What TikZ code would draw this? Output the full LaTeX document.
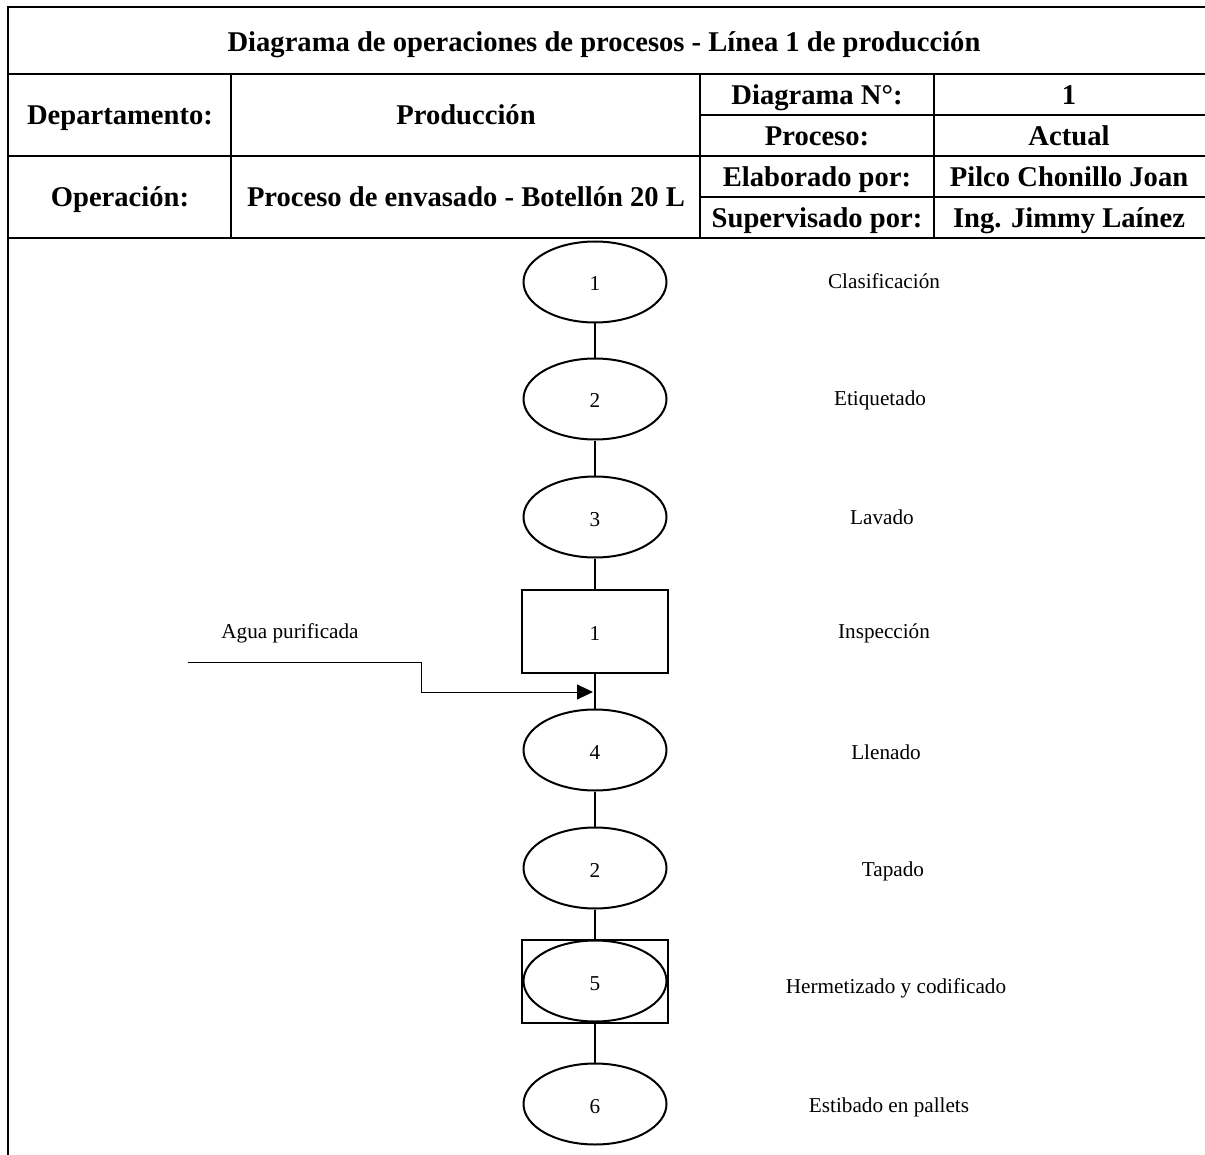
\documentclass[tikz,border=0pt]{standalone}
\usepackage{fontspec}
\setmainfont{Liberation Serif}
\usepackage{tikz}
\usetikzlibrary{arrows.meta, positioning, shapes.geometric}

\begin{document}
\begin{tikzpicture}[
  x=0.5pt, y=-0.5pt,
  tbl/.style={line width=1.4pt, black},
  conn/.style={line width=1.3pt, black},
  feed/.style={-{Triangle[length=8pt, width=7.5pt]}, line width=0.5pt, black},
  oper/.style={
    ellipse, draw, line width=1pt, minimum width=71.5pt,
    minimum height=40.5pt, inner sep=0pt, font=\fontsize{10.6}{12}\selectfont,
    text height=0.9em, text depth=0pt},
  inspbox/.style={
    rectangle, draw, line width=1pt, minimum width=73pt,
    minimum height=41.5pt, inner sep=0pt, font=\fontsize{10.6}{12}\selectfont,
    text height=0.9em, text depth=0pt},
  hdr/.style={
    font=\fontsize{14.3}{17}\selectfont\bfseries, inner sep=0pt,
    text height=0.68em, text depth=0.2em},
  lbl/.style={
    font=\fontsize{10.6}{12}\selectfont, inner sep=0pt,
    text height=0.68em, text depth=0.2em},
]
  \useasboundingbox (0,0) rectangle (1205,1155);

  %% ─── HEADER TABLE ───────────────────────────────────────────────────
  \draw[tbl] (1205,7) -- (8,7) -- (8,1155);
  \foreach \y in {74,156,238} \draw[tbl] (8,\y) -- (1205,\y);
  \foreach \y in {115,197} \draw[tbl] (700,\y) -- (1205,\y);
  \foreach \x in {231,700,934} \draw[tbl] (\x,74) -- (\x,238);

  \node[hdr] (title) at (604,47)
    {Diagrama de operaciones de procesos - Línea 1 de producción};
  \node[hdr] (dept)    at (120,120)  {Departamento:};
  \node[hdr] (deptval) at (466,120)  {Producción};
  \node[hdr] (dgm)     at (817,100)  {Diagrama N°:};
  \node[hdr] (dgmval)  at (1069,100) {1};
  \node[hdr] (proc)    at (817,141)  {Proceso:};
  \node[hdr] (procval) at (1069,141) {Actual};
  \node[hdr] (opn)     at (120,202)  {Operación:};
  \node[hdr] (opnval)  at (466,202)  {Proceso de envasado - Botellón 20 L};
  \node[hdr] (elab)    at (817,182)  {Elaborado por:};
  \node[hdr] (elabval) at (1069,182) {Pilco Chonillo Joan};
  \node[hdr] (sup)     at (817,223)  {Supervisado por:};
  \node[hdr] (supval)  at (1069,223) {Ing. Jimmy Laínez};

  %% ─── PROCESS CHAIN ──────────────────────────────────────────────────
  \node[oper]    (op1)  at (595,282)  {1};
  \node[oper]    (op2)  at (595,399)  {2};
  \node[oper]    (op3)  at (595,517)  {3};
  \node[inspbox] (in1)  at (595,631)  {1};
  \node[oper]    (op4)  at (595,750)  {4};
  \node[oper]    (tap)  at (595,868)  {2};
  % combined: operation + inspection
  \node[inspbox] (comb) at (595,981)  {};
  \node[oper]    (op5)  at (595,981)  {5};
  \node[oper]    (op6)  at (595,1104) {6};

  \foreach \a/\b in {op1/op2, op2/op3, op3/in1, in1/op4, op4/tap, tap/comb, comb/op6}
    \draw[conn] (\a) -- (\b);

  %% step names
  \node[lbl] (l1) at (884,284)  {Clasificación};
  \node[lbl] (l2) at (880,401)  {Etiquetado};
  \node[lbl] (l3) at (882,520)  {Lavado};
  \node[lbl] (l4) at (884,634)  {Inspección};
  \node[lbl] (l5) at (886,755)  {Llenado};
  \node[lbl] (l6) at (893,872)  {Tapado};
  \node[lbl] (l7) at (896,989)  {Hermetizado y codificado};
  \node[lbl] (l8) at (889,1108) {Estibado en pallets};

  %% ─── INPUT: purified water ──────────────────────────────────────────
  \node[lbl] (agua) at (290,634) {Agua purificada};
  \coordinate (aguain)   at (188,662);
  \coordinate (aguabend) at (421,662);
  \coordinate (aguaend)  at (593,692);
  \draw[feed] (aguain) -- (aguabend) |- (aguaend);
\end{tikzpicture}
\end{document}
